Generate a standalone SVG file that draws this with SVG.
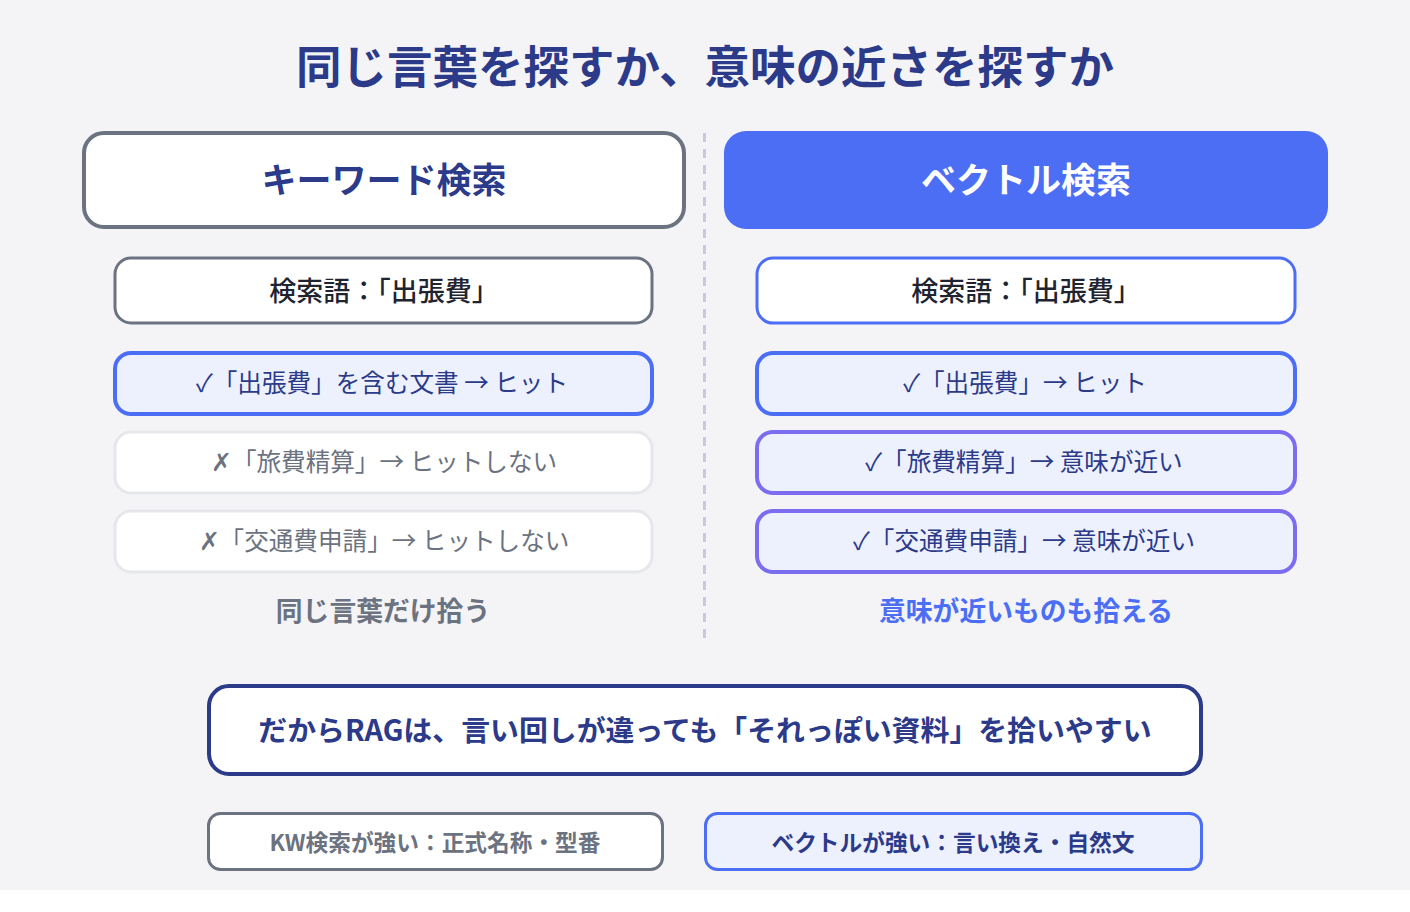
<svg xmlns="http://www.w3.org/2000/svg" width="1410" height="912" viewBox="0 0 1410 912">
<style>
text{font-family:"Noto Sans CJK JP","Noto Sans",sans-serif;text-anchor:middle;dominant-baseline:central}
.title{font-size:45.5px;font-weight:700;fill:#2c3a8a}
.head{font-size:35px;font-weight:700}
.query{font-size:27px;font-weight:500}
.row{font-size:24.6px;font-weight:400}
.cap{font-size:26.8px;font-weight:700}
.small{font-size:22.7px;font-weight:700}
.gray-box{fill:#fff;stroke:#6b7280;stroke-width:3}
.blue-box{fill:#fff;stroke:#4c6ef5;stroke-width:3}
.hit{fill:#edf1fd;stroke:#4c6ef5;stroke-width:4}
.sem{fill:#edf1fd;stroke:#7b6cf0;stroke-width:4}
.miss{fill:#fff;stroke:#e5e7eb;stroke-width:3}
.navy{fill:#2c3a8a}
.dark{fill:#1f2430}
.muted{fill:#6b7280}
</style>
<rect x="0" y="0" width="1410" height="890" fill="#f4f4f7"/>
<rect x="0" y="890" width="1410" height="22" fill="#ffffff"/>
<g id="title"><text class="title" x="705" y="64">同じ言葉を探すか、意味の近さを探すか</text></g>
<g id="connectors"><line x1="704.5" y1="133" x2="704.5" y2="642" stroke="#c8cbe0" stroke-width="3" stroke-dasharray="9 7"/></g>
<g id="kw-header"><rect x="84" y="133" width="600" height="94" rx="20" fill="#fff" stroke="#6b7280" stroke-width="4"/><text class="head navy" x="384" y="177">キーワード検索</text></g>
<g id="vec-header"><rect x="724" y="131" width="604" height="98" rx="22" fill="#4c6ef5"/><text class="head" x="1026" y="177" fill="#fff">ベクトル検索</text></g>
<g id="kw-query"><rect class="gray-box" x="115" y="258" width="537" height="65" rx="16"/><text class="query dark" x="384" y="289">検索語：「出張費」</text></g>
<g id="kw-hit"><rect class="hit" x="115" y="353" width="537" height="61" rx="16"/><text class="row navy" x="382" y="381">✓「出張費」を含む文書 → ヒット</text></g>
<g id="kw-miss1"><rect class="miss" x="115" y="432" width="537" height="61" rx="16"/><text class="row muted" x="384" y="460">✗「旅費精算」→ ヒットしない</text></g>
<g id="kw-miss2"><rect class="miss" x="115" y="511" width="537" height="61" rx="16"/><text class="row muted" x="384" y="539">✗「交通費申請」→ ヒットしない</text></g>
<g id="kw-caption"><text class="cap muted" x="383" y="609">同じ言葉だけ拾う</text></g>
<g id="vec-query"><rect class="blue-box" x="757" y="258" width="538" height="65" rx="16"/><text class="query dark" x="1026" y="289">検索語：「出張費」</text></g>
<g id="vec-hit"><rect class="hit" x="757" y="353" width="538" height="61" rx="16"/><text class="row navy" x="1025" y="381">✓「出張費」→ ヒット</text></g>
<g id="vec-sem1"><rect class="sem" x="757" y="432" width="538" height="61" rx="16"/><text class="row navy" x="1024" y="460">✓「旅費精算」→ 意味が近い</text></g>
<g id="vec-sem2"><rect class="sem" x="757" y="511" width="538" height="61" rx="16"/><text class="row navy" x="1024" y="539">✓「交通費申請」→ 意味が近い</text></g>
<g id="vec-caption"><text class="cap" x="1026" y="609" fill="#4c6ef5">意味が近いものも拾える</text></g>
<g id="conclusion"><rect x="209" y="686" width="992" height="88" rx="20" fill="#fff" stroke="#2c3a8a" stroke-width="4"/><text x="705" y="728" font-size="28.9" font-weight="700" class="navy">だからRAGは、言い回しが違っても「それっぽい資料」を拾いやすい</text></g>
<g id="kw-strength"><rect x="208.5" y="813.5" width="454" height="56" rx="12" fill="#fff" stroke="#6b7280" stroke-width="3"/><text x="435" y="841" class="small muted">KW検索が強い：正式名称・型番</text></g>
<g id="vec-strength"><rect x="705.5" y="813.5" width="496" height="56" rx="12" fill="#edf1fd" stroke="#4c6ef5" stroke-width="3"/><text x="953" y="841" class="small navy">ベクトルが強い：言い換え・自然文</text></g>
</svg>
